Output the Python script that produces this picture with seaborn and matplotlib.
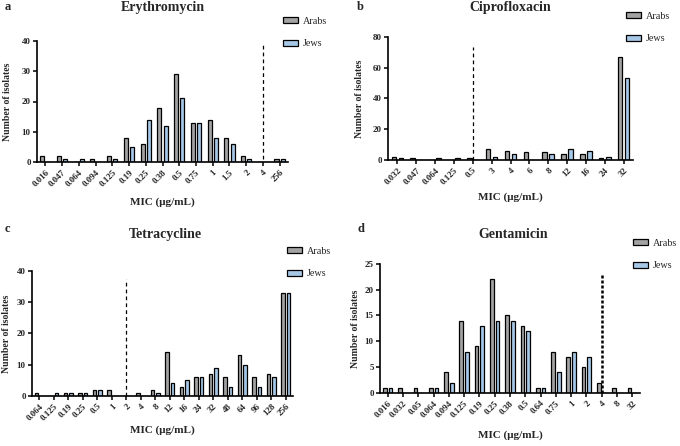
import matplotlib
matplotlib.use("Agg")
import matplotlib.pyplot as plt
import pandas as pd
import seaborn as sns

# ---- data ----
ery_mic = ["0.016", "0.047", "0.064", "0.094", "0.125", "0.19", "0.25", "0.38",
           "0.5", "0.75", "1", "1.5", "2", "4", "256"]
ery_arabs = [2, 2, 0, 1, 2, 8, 6, 18, 29, 13, 14, 8, 2, 0, 1]
ery_jews = [0, 1, 1, 0, 1, 5, 14, 12, 21, 13, 8, 6, 1, 0, 1]

cip_mic = ["0.032", "0.047", "0.064", "0.125", "0.5", "3", "4", "6", "8", "12",
           "16", "24", "32"]
cip_arabs = [2, 1, 0, 0, 1, 7, 6, 5, 5, 4, 4, 1, 67]
cip_jews = [1, 0, 1, 1, 0, 2, 4, 0, 4, 7, 6, 2, 53]

tet_mic = ["0.064", "0.125", "0.19", "0.25", "0.5", "1", "2", "4", "8", "12",
           "16", "24", "32", "48", "64", "96", "128", "256"]
tet_arabs = [1, 0, 1, 1, 2, 2, 0, 1, 2, 14, 3, 6, 7, 6, 13, 6, 7, 33]
tet_jews = [0, 1, 1, 1, 2, 0, 0, 0, 1, 4, 5, 6, 9, 3, 10, 3, 6, 33]

gen_mic = ["0.016", "0.032", "0.05", "0.064", "0.094", "0.125", "0.19", "0.25",
           "0.38", "0.5", "0.64", "0.75", "1", "2", "4", "8", "32"]
gen_arabs = [1, 1, 1, 1, 4, 14, 9, 22, 15, 13, 1, 8, 7, 5, 2, 1, 1]
gen_jews = [1, 0, 0, 1, 2, 8, 13, 14, 14, 12, 1, 4, 8, 7, 0, 0, 0]

groups = ["Arabs", "Jews"]
colors = ["#a3a3a3", "#9cc8f0"]

panels = [
    # letter, title, mic, arabs, jews, ymax, ystep, breakpoint
    ("a", "Erythromycin", ery_mic, ery_arabs, ery_jews, 40, 10, "4"),
    ("b", "Ciprofloxacin", cip_mic, cip_arabs, cip_jews, 80, 20, "0.5"),
    ("c", "Tetracycline", tet_mic, tet_arabs, tet_jews, 40, 10, "2"),
    ("d", "Gentamicin", gen_mic, gen_arabs, gen_jews, 25, 5, "4"),
]

# layout, in pixels from the top-left corner
W, H = 680, 446
boxes = [(37, 40.7, 288, 162.3), (388, 36.7, 633, 160),
         (32, 270.7, 293, 396), (380, 263.7, 640, 393)]
title_pos = [(163, 7), (510, 8), (165, 235), (513, 235)]
letter_pos = [(5, 7), (357, 7), (5, 229), (357, 229)]
legend_pos = [(283, 17), (626, 12), (287, 247), (633, 239)]
xlabel_y = [202, 197, 430, 435]
ylabel_x = [8, 360, 7, 355]
break_top = [0.97, 0.92, 0.93, 0.93]

sns.set_style("ticks")
plt.rcParams["font.family"] = ["Liberation Serif", "DejaVu Serif"]
plt.rcParams["font.weight"] = "bold"

fig = plt.figure(figsize=(W / 100, H / 100), dpi=100)

for i, (letter, title, mic, arabs, jews, ymax, ystep, bp) in enumerate(panels):
    l, t, r, b = boxes[i]
    ax = fig.add_axes([l / W, 1 - b / H, (r - l) / W, (b - t) / H])
    df = pd.DataFrame({
        "MIC": mic * 2,
        "count": arabs + jews,
        "group": ["Arabs"] * len(mic) + ["Jews"] * len(mic),
    })
    sns.barplot(data=df, x="MIC", y="count", hue="group", hue_order=groups,
                order=mic, palette=colors, width=0.75, gap=0.35,
                edgecolor="black", linewidth=0.9, ax=ax)
    ax.set_ylim(0, ymax)
    ax.set_yticks(range(0, ymax + 1, ystep))
    ax.set_xlim(-0.5, len(mic) - 0.5)
    sns.despine(ax=ax)
    for s in ["left", "bottom"]:
        ax.spines[s].set_linewidth(1.2)
        ax.spines[s].set_color("black")
    ax.tick_params(axis="both", length=3, width=1.1, color="black",
                   labelsize=6.5, pad=1.5)
    for lab in ax.get_xticklabels():
        lab.set_rotation(45)
        lab.set_ha("right")
        lab.set_rotation_mode("anchor")
        lab.set_fontweight("bold")
    for lab in ax.get_yticklabels():
        lab.set_fontweight("bold")
    ax.set_xlabel("MIC (μg/mL)", fontsize=8, fontweight="bold", va="center")
    ax.set_ylabel("Number of isolates", fontsize=7, fontweight="bold",
                  va="center")
    ax.xaxis.set_label_coords(((l + r) / 2) / W, 1 - xlabel_y[i] / H,
                              transform=fig.transFigure)
    ax.yaxis.set_label_coords(ylabel_x[i] / W, 1 - ((t + b) / 2) / H,
                              transform=fig.transFigure)

    bx = mic.index(bp)
    if letter == "d":
        ax.axvline(bx, ymin=0, ymax=break_top[i], color="black", lw=1.8,
                   ls=(0, (1.2, 0.8)))
    else:
        ax.axvline(bx, ymin=0.03 if letter == "a" else 0, ymax=break_top[i],
                   color="black", lw=0.9, ls=(0, (3, 2.5)))

    ax.get_legend().remove()
    handles, labels = ax.get_legend_handles_labels()
    lx, ly = legend_pos[i]
    fig.legend(handles, labels, loc="upper left",
               bbox_to_anchor=(lx / W, 1 - ly / H), bbox_transform=fig.transFigure,
               frameon=False, borderpad=0, borderaxespad=0,
               handlelength=1.45, handleheight=0.55, handletextpad=0.5,
               labelspacing=1.3, prop={"size": 7.3, "weight": "normal"})

    tx, ty = title_pos[i]
    fig.text(tx / W, 1 - ty / H, title, ha="center", va="center",
             fontsize=10, fontweight="bold")
    px, py = letter_pos[i]
    fig.text(px / W, 1 - py / H, letter, ha="left", va="center",
             fontsize=9, fontweight="bold")

fig.savefig("out.png", dpi=100, facecolor="white")
